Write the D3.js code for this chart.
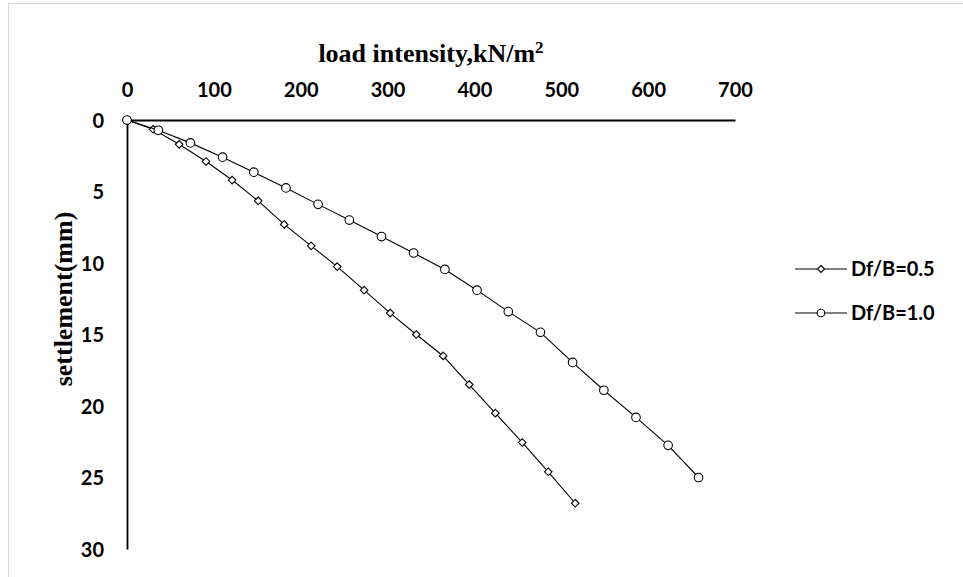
<!DOCTYPE html>
<html>
<head>
<meta charset="utf-8">
<script src="https://cdn.jsdelivr.net/npm/d3@7"></script>
<style>
  body { margin: 0; background: #fff; }
  .tick-label { font-family: Lato, "Open Sans", sans-serif; font-weight: bold; font-size: 20px; fill: #000; }
  .axis-title { font-family: "Liberation Serif", "Times New Roman", serif; font-weight: bold; font-size: 26px; fill: #000; }
  .legend-label { font-family: Lato, "Open Sans", sans-serif; font-weight: bold; font-size: 20px; fill: #000; }
</style>
</head>
<body>
<div id="chart"></div>
<script>
// data
const seriesNames = ["Df/B=0.5", "Df/B=1.0"];
const load05 = [0, 30, 60, 91, 121, 151, 181, 212, 242, 273, 303, 333, 364, 394, 424, 455, 485, 516];
const settle05 = [0, 0.65, 1.7, 2.9, 4.2, 5.65, 7.3, 8.8, 10.25, 11.9, 13.5, 15.0, 16.5, 18.5, 20.5, 22.55, 24.6, 26.8];
const load10 = [0, 36, 73, 110, 146, 183, 220, 256, 293, 330, 366, 403, 439, 476, 513, 549, 586, 623, 658];
const settle10 = [0, 0.72, 1.6, 2.6, 3.65, 4.75, 5.9, 7.0, 8.15, 9.3, 10.45, 11.9, 13.4, 14.85, 16.95, 18.9, 20.8, 22.75, 25.0];
const xTicks = [0, 100, 200, 300, 400, 500, 600, 700];
const yTicks = [0, 5, 10, 15, 20, 25, 30];

const W = 963, H = 577;
const svg = d3.select("#chart")
    .append("svg")
    .attr("width", W)
    .attr("height", H);

// light chart-area border
svg.append("rect")
    .attr("x", 8.5).attr("y", 3.5)
    .attr("width", 980).attr("height", 620)
    .attr("fill", "none")
    .attr("stroke", "#d9d9d9");

const x = d3.scaleLinear().domain([0, 700]).range([127, 735]);
const y = d3.scaleLinear().domain([0, 30]).range([120, 549]);

// axes: top x axis, left y axis, no tick marks
const xAxis = svg.append("g")
    .attr("transform", `translate(0, ${y(0)})`)
    .call(d3.axisTop(x).tickValues(xTicks).tickSize(0).tickPadding(23));
const yAxis = svg.append("g")
    .attr("transform", `translate(${x(0)}, 0)`)
    .call(d3.axisLeft(y).tickValues(yTicks).tickSize(0).tickPadding(23));

[xAxis, yAxis].forEach(function (g) {
    g.select(".domain").attr("stroke", "#000").attr("stroke-width", 1.8);
    g.selectAll("text").attr("class", "tick-label").attr("font-size", null).attr("font-family", null);
});
yAxis.selectAll("text").attr("dy", "0.35em");

// axis titles
const xt = svg.append("text")
    .attr("class", "axis-title")
    .attr("x", (x(0) + x(700)) / 2)
    .attr("y", 62)
    .attr("text-anchor", "middle")
    .text("load intensity,kN/m");
xt.append("tspan").attr("font-size", "17px").attr("dy", -9).text("2");

svg.append("text")
    .attr("class", "axis-title")
    .attr("transform", "translate(72, 299) rotate(-90)")
    .attr("text-anchor", "middle")
    .text("settlement(mm)");

const series = [
    { name: seriesNames[0], load: load05, settle: settle05, shape: "diamond" },
    { name: seriesNames[1], load: load10, settle: settle10, shape: "circle" }
];

const line = d3.line()
    .x(function (d) { return x(d[0]) })
    .y(function (d) { return y(d[1]) });

function drawMarker(g, shape, cx, cy, size) {
    if (shape === "circle") {
        g.append("circle")
            .attr("cx", cx).attr("cy", cy).attr("r", size)
            .attr("fill", "#fff").attr("stroke", "#000").attr("stroke-width", 1.1);
    } else {
        g.append("path")
            .attr("d", `M${cx},${cy - size}L${cx + size},${cy}L${cx},${cy + size}L${cx - size},${cy}Z`)
            .attr("fill", "#fff").attr("stroke", "#000").attr("stroke-width", 1.1);
    }
}

series.forEach(function (s) {
    const pts = s.load.map(function (v, i) { return [v, s.settle[i]] });
    svg.append("path")
        .attr("d", line(pts))
        .attr("fill", "none")
        .attr("stroke", "#000")
        .attr("stroke-width", 1.1);
    const mg = svg.append("g");
    pts.forEach(function (p) {
        drawMarker(mg, s.shape, x(p[0]), y(p[1]), s.shape === "circle" ? 4.3 : 3.8);
    });
});

// legend
const legend = svg.append("g");
series.forEach(function (s, i) {
    const ly = 269 + i * 44;
    legend.append("line")
        .attr("x1", 795).attr("x2", 847)
        .attr("y1", ly).attr("y2", ly)
        .attr("stroke", "#000").attr("stroke-width", 1.1);
    drawMarker(legend, s.shape, 821, ly, s.shape === "circle" ? 3.8 : 3.5);
    legend.append("text")
        .attr("class", "legend-label")
        .attr("x", 851)
        .attr("y", ly)
        .attr("dy", "0.35em")
        .text(s.name);
});
</script>
</body>
</html>
